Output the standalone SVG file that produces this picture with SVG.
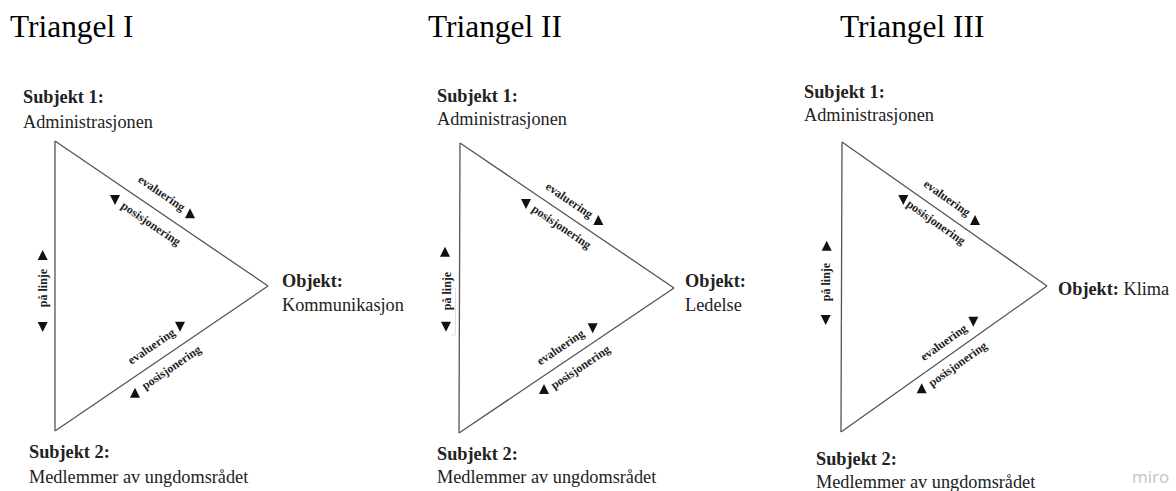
<svg xmlns="http://www.w3.org/2000/svg" xmlns:xlink="http://www.w3.org/1999/xlink" width="1176" height="491" viewBox="0 0 1176 491">
<defs>
<style>
.title{font-family:"Liberation Serif","Times New Roman",serif;font-size:31.4px;fill:#000}
.b{font-family:"Liberation Serif","Times New Roman",serif;font-size:18.3px;font-weight:bold;fill:#222}
.r{font-family:"Liberation Serif","Times New Roman",serif;font-size:18.3px;fill:#222}
.lbl{font-family:"Liberation Serif","Times New Roman",serif;font-size:12px;font-weight:bold;fill:#222;text-anchor:middle}
.edge{stroke:#555;stroke-width:1.3;fill:none}
.miro{font-family:"Open Sans","Liberation Sans",sans-serif;font-size:17px;fill:#c4c4c4}
</style>
<path id="up" d="M0,-5 L5,5 L-5,5 Z" fill="#111"/>
<path id="dn" d="M0,5 L5,-5 L-5,-5 Z" fill="#111"/>
</defs>
<rect width="1176" height="491" fill="#fff"/>

<!-- Triangel I -->
<g id="triangel-1">
<text class="title" x="10" y="37">Triangel I</text>
<g id="t1-subjekt1"><text class="b" x="23" y="103">Subjekt 1:</text><text class="r" x="23" y="128">Administrasjonen</text></g>
<g id="t1-objekt"><text class="b" x="282" y="287">Objekt:</text><text class="r" x="282" y="311">Kommunikasjon</text></g>
<g id="t1-subjekt2"><text class="b" x="29" y="458">Subjekt 2:</text><text class="r" x="29" y="483">Medlemmer av ungdomsrådet</text></g>
<g id="t1-connectors">
<line class="edge" x1="55" y1="141" x2="268" y2="286"/>
<line class="edge" x1="55" y1="431" x2="268" y2="286"/>
<line class="edge" x1="55" y1="141" x2="55" y2="431"/>
<g transform="translate(55,141) rotate(34.25)">
<text class="lbl" x="117.6" y="-13">evaluering</text>
<text class="lbl" x="125.8" y="18.2">posisjonering</text>
</g>
<g transform="translate(55,431) rotate(-34.25)">
<text class="lbl" x="127.3" y="-11.8">evaluering</text>
<text class="lbl" x="132" y="16.8">posisjonering</text>
</g>
<use href="#up" x="190" y="213.3"/>
<use href="#dn" x="115" y="200"/>
<use href="#dn" x="180" y="326.7"/>
<use href="#up" x="135" y="392.7"/>
<use href="#up" x="42.7" y="255"/>
<use href="#dn" x="42.7" y="327"/>
<text class="lbl" transform="translate(42.7,288) rotate(-90)" x="0" y="4">på linje</text>
</g>
</g>

<!-- Triangel II -->
<g id="triangel-2">
<text class="title" x="428" y="37">Triangel II</text>
<g id="t2-subjekt1"><text class="b" x="437" y="102">Subjekt 1:</text><text class="r" x="437" y="125">Administrasjonen</text></g>
<g id="t2-objekt"><text class="b" x="685" y="287">Objekt:</text><text class="r" x="685" y="311">Ledelse</text></g>
<g id="t2-subjekt2"><text class="b" x="437" y="460">Subjekt 2:</text><text class="r" x="437" y="483">Medlemmer av ungdomsrådet</text></g>
<g id="t2-connectors">
<line class="edge" x1="460" y1="143" x2="674" y2="288"/>
<line class="edge" x1="459" y1="433" x2="674" y2="288"/>
<line class="edge" x1="460" y1="143" x2="459" y2="433"/>
<path d="M451,288 H455.5 V335 H451" fill="none" stroke="#d8d8d8" stroke-width="0.8"/>
<g transform="translate(460,143) rotate(34.12)">
<text class="lbl" x="122.6" y="-10">evaluering</text>
<text class="lbl" x="131.1" y="16.3">posisjonering</text>
</g>
<g transform="translate(459,433) rotate(-33.99)">
<text class="lbl" x="132.2" y="-10.5">evaluering</text>
<text class="lbl" x="137.5" y="17.2">posisjonering</text>
</g>
<use href="#up" x="598.3" y="220"/>
<use href="#dn" x="526" y="204"/>
<use href="#dn" x="592.7" y="328.3"/>
<use href="#up" x="544" y="389"/>
<use href="#up" x="445" y="251.7"/>
<use href="#dn" x="446" y="326.7"/>
<text class="lbl" transform="translate(446.5,291) rotate(-90)" x="0" y="4">på linje</text>
</g>
</g>

<!-- Triangel III -->
<g id="triangel-3">
<text class="title" x="840" y="37">Triangel III</text>
<g id="t3-subjekt1"><text class="b" x="804" y="98">Subjekt 1:</text><text class="r" x="804" y="121">Administrasjonen</text></g>
<g id="t3-objekt"><text class="r" x="1058" y="295"><tspan class="b">Objekt:</tspan> Klima</text></g>
<g id="t3-subjekt2"><text class="b" x="816" y="465">Subjekt 2:</text><text class="r" x="816" y="488">Medlemmer av ungdomsrådet</text></g>
<g id="t3-connectors">
<line class="edge" x1="842" y1="142" x2="1047" y2="286"/>
<line class="edge" x1="841" y1="432" x2="1047" y2="286"/>
<line class="edge" x1="842" y1="142" x2="841" y2="432"/>
<g transform="translate(842,142) rotate(35.09)">
<text class="lbl" x="118.1" y="-10.6">evaluering</text>
<text class="lbl" x="123.1" y="15.6">posisjonering</text>
</g>
<g transform="translate(841,432) rotate(-35.33)">
<text class="lbl" x="135.6" y="-9.8">evaluering</text>
<text class="lbl" x="134.5" y="16">posisjonering</text>
</g>
<use href="#up" x="975" y="220"/>
<use href="#dn" x="903.3" y="200"/>
<use href="#dn" x="973.3" y="321.7"/>
<use href="#up" x="921.7" y="388.3"/>
<use href="#up" x="826.7" y="245.7"/>
<use href="#dn" x="825.7" y="320"/>
<text class="lbl" transform="translate(825.5,282) rotate(-90)" x="0" y="4">på linje</text>
</g>
</g>

<text class="miro" x="1132" y="483">miro</text>
</svg>
